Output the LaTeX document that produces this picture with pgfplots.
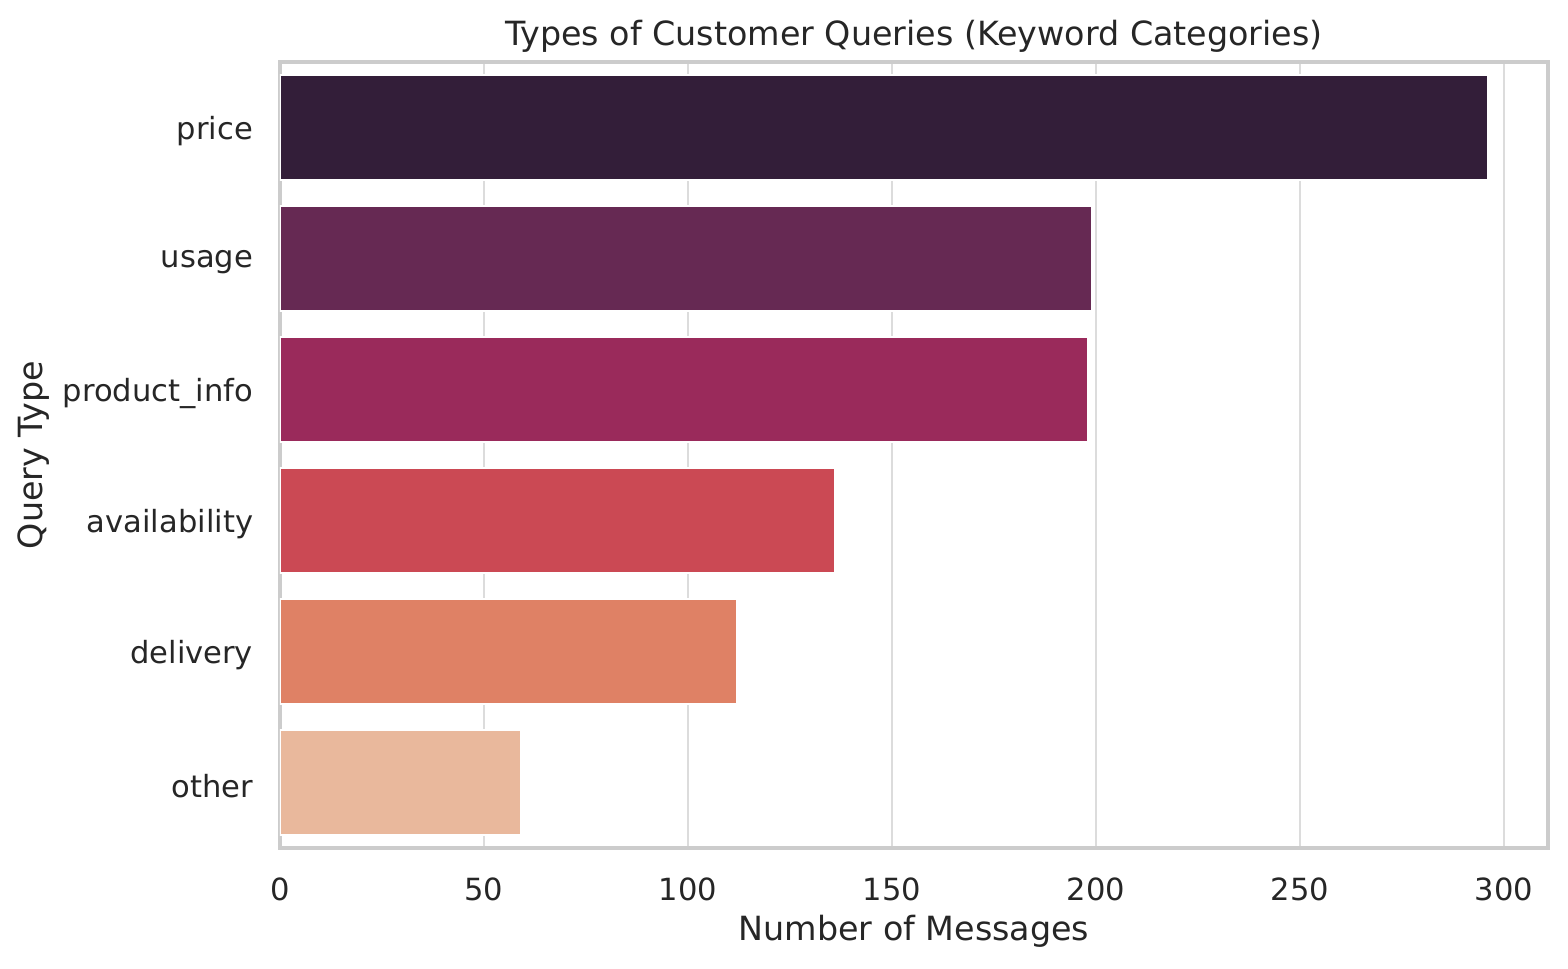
\documentclass[border=0pt]{standalone}
\usepackage{fontspec}
\setmainfont{DejaVu Sans}
\usepackage{pgfplots}
\pgfplotsset{compat=1.18}
\definecolor{c1}{HTML}{331E39}
\definecolor{c2}{HTML}{662953}
\definecolor{c3}{HTML}{9A2A5B}
\definecolor{c4}{HTML}{CB4954}
\definecolor{c5}{HTML}{DF8165}
\definecolor{c6}{HTML}{E9B89C}
\definecolor{txt}{HTML}{262626}
\definecolor{spine}{HTML}{CCCCCC}
\definecolor{gridc}{HTML}{DCDCDC}
\begin{document}
\begin{tikzpicture}
\path[use as bounding box] (-100.8pt,-43.2pt) rectangle (463.7pt,305.3pt);
\begin{axis}[
  scale only axis, width=456.5pt, height=283pt,
  xmin=0, xmax=310.8, ymin=-0.5, ymax=5.5, y dir=reverse,
  xbar, bar width=37.73pt, bar shift=0pt,
  xtick={0,50,...,300}, ytick={0,...,5},
  yticklabels={price,usage,product\_info,availability,delivery,other},
  major tick length=0pt,
  xmajorgrids, grid style={gridc, line width=1pt},
  axis line style={spine, line width=1.25pt},
  tick label style={font=\fontsize{11}{13}\selectfont, text=txt},
  /pgf/number format/assume math mode=true,
  xticklabel style={anchor=north, inner sep=0pt, yshift=-10.4pt},
  yticklabel style={anchor=east, inner sep=0pt, xshift=-9.5pt, yshift=-1.4pt},
  title={Types of Customer Queries (Keyword Categories)},
  title style={font=\fontsize{12}{14}\selectfont, text=txt, at={(axis description cs:0.5,1)}, anchor=base, yshift=0.1pt},
  xlabel={Number of Messages},
  xlabel style={font=\fontsize{12}{14}\selectfont, text=txt, at={(axis description cs:0.5,-0.117)}, anchor=base},
  ylabel={Query Type},
  ylabel style={font=\fontsize{12}{14}\selectfont, text=txt, at={(axis description cs:-0.1869,0.5)}, anchor=base, rotate=0},
  every axis plot/.append style={draw=white, line width=0.6pt},
]
\addplot[fill=c1, draw=white] coordinates {(296,0)};
\addplot[fill=c2, draw=white] coordinates {(199,1)};
\addplot[fill=c3, draw=white] coordinates {(198,2)};
\addplot[fill=c4, draw=white] coordinates {(136,3)};
\addplot[fill=c5, draw=white] coordinates {(112,4)};
\addplot[fill=c6, draw=white] coordinates {(59,5)};
\end{axis}
\end{tikzpicture}
\end{document}
